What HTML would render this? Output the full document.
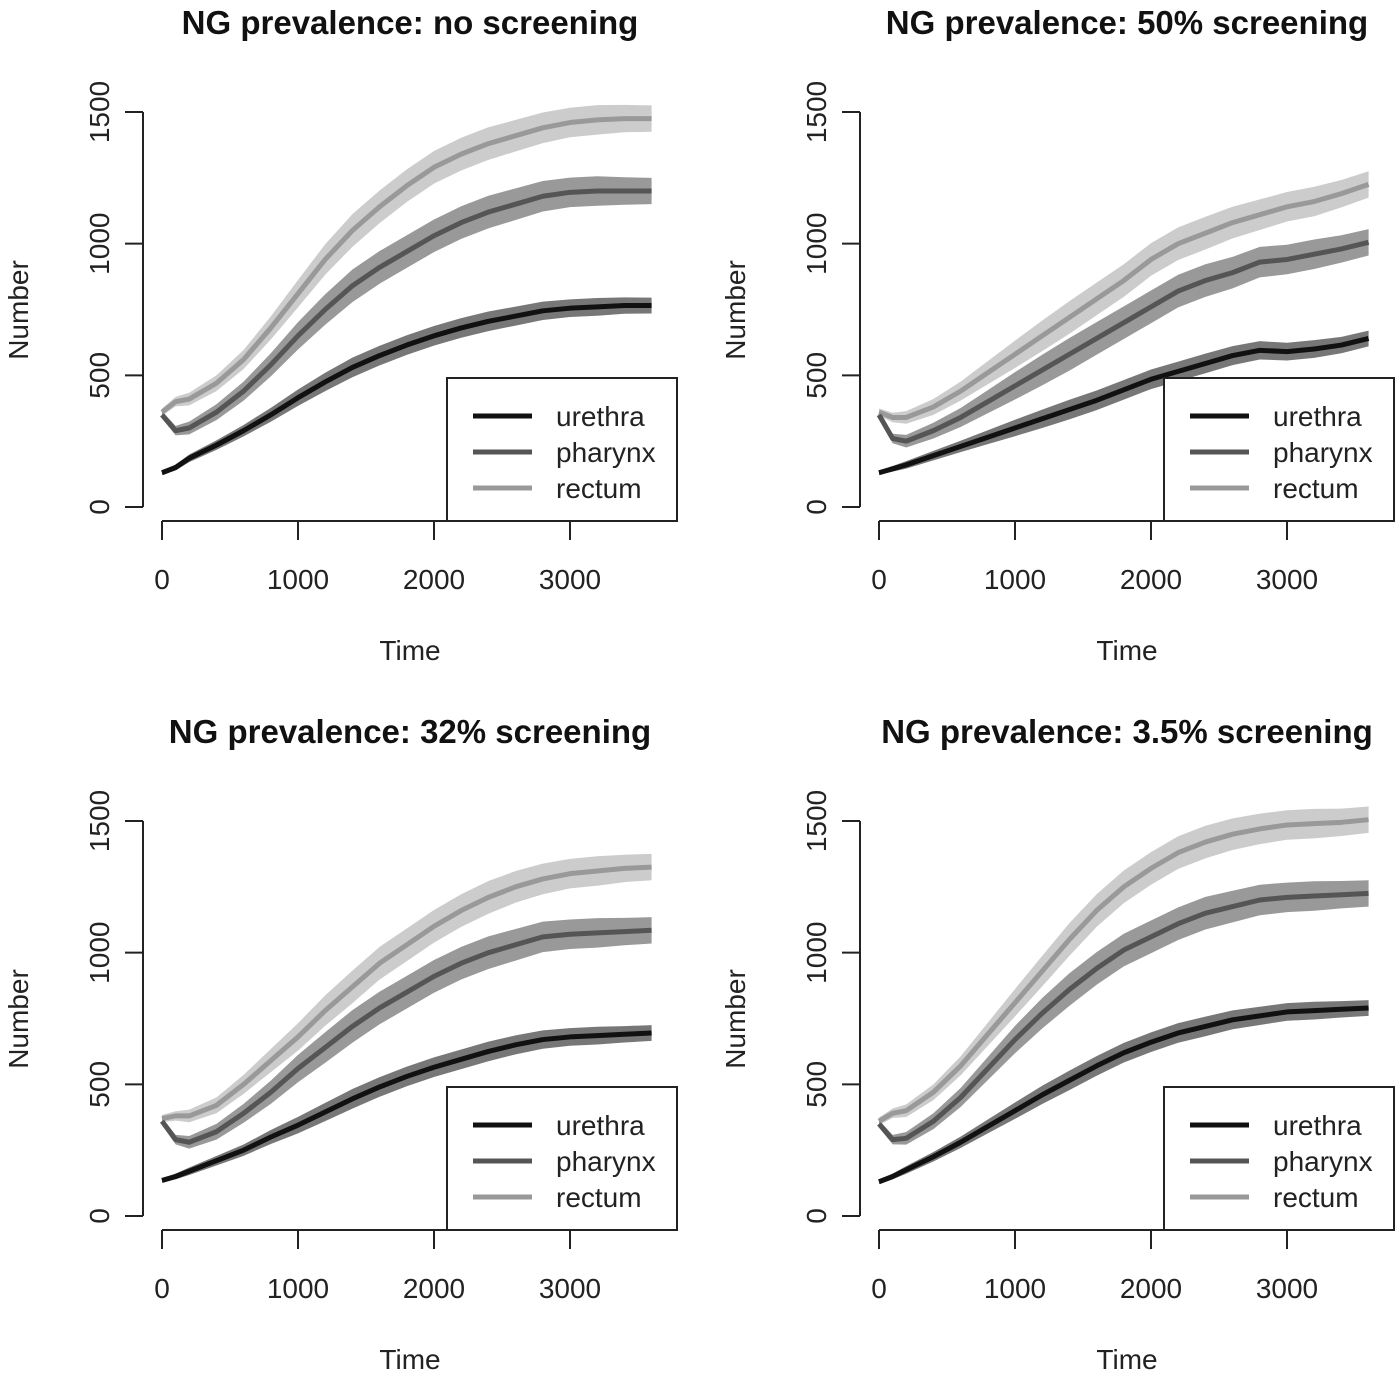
<!DOCTYPE html>
<html><head><meta charset="utf-8"><style>
html,body{margin:0;padding:0;background:#fff;}
svg{display:block;font-family:"Liberation Sans",Arial,sans-serif;}
</style></head><body>
<svg id="chart" width="1400" height="1377" viewBox="0 0 1400 1377" xmlns="http://www.w3.org/2000/svg"></svg>
<script>
const times = [0,100,200,400,600,800,1000,1200,1400,1600,1800,2000,2200,2400,2600,2800,3000,3200,3400,3600];
const spread = [14,18,24,30,36,44,52,58,62,62,62,62,62,62,60,58,56,56,52,50];
const titles = ["NG prevalence: no screening","NG prevalence: 50% screening","NG prevalence: 32% screening","NG prevalence: 3.5% screening"];
const seriesNames = ["urethra","pharynx","rectum"];
const xTicks = [0,1000,2000,3000];
const yTicks = [0,500,1000,1500];
const urethra1 = [130,150,185,235,290,350,415,475,530,575,615,650,680,705,725,745,755,760,765,765];
const pharynx1 = [350,290,300,360,440,540,650,750,840,910,970,1030,1080,1120,1150,1180,1195,1200,1200,1200];
const rectum1  = [360,400,410,470,560,680,810,940,1050,1140,1220,1290,1340,1380,1410,1440,1460,1470,1475,1475];
const urethra2 = [130,145,160,195,230,265,300,335,370,405,445,485,515,545,575,595,590,600,615,640];
const pharynx2 = [350,260,250,290,340,400,460,520,580,640,700,760,820,860,890,930,940,960,980,1005];
const rectum2  = [360,340,340,380,440,510,580,650,720,790,860,940,1000,1040,1080,1110,1140,1160,1190,1225];
const urethra3 = [135,150,170,210,250,300,345,395,445,490,530,565,595,625,650,670,680,685,690,695];
const pharynx3 = [360,290,280,320,390,470,560,640,720,790,850,910,960,1000,1030,1060,1070,1075,1080,1085];
const rectum3  = [370,380,380,420,500,590,680,780,870,960,1030,1100,1160,1210,1250,1280,1300,1310,1320,1325];
const urethra4 = [130,150,175,225,280,340,400,460,515,570,620,660,695,720,745,760,775,780,785,790];
const pharynx4 = [350,290,295,360,450,560,670,770,860,940,1010,1060,1110,1150,1175,1200,1210,1215,1220,1225];
const rectum4  = [360,390,400,470,570,690,810,930,1050,1160,1250,1320,1380,1420,1450,1470,1485,1490,1495,1505];

const panelData = [[urethra1,pharynx1,rectum1],[urethra2,pharynx2,rectum2],[urethra3,pharynx3,rectum3],[urethra4,pharynx4,rectum4]];
const lineColors = ["#111","#555","#999"];
const bandColors = ["#777","#999","#ccc"];
const svg = document.getElementById('chart');
const NS = "http://www.w3.org/2000/svg";
function mk(tag, attrs, parent){const e=document.createElementNS(NS,tag);for(const k in attrs)e.setAttribute(k,attrs[k]);parent.appendChild(e);return e;}

panelData.forEach((series,p)=>{
  const ox = (p%2)*717, oy = Math.floor(p/2)*709;
  const g = mk('g',{},svg);
  
  
  const xs = t => ox + 162 + t*0.136;
  const ys = v => oy + 507 - v*(395/1500);
  const t = mk('text',{x:ox+410,y:oy+34,'text-anchor':'middle','font-size':'33','font-weight':'bold',fill:'#111'},g);
  t.textContent = titles[p];
  
  
  [2,1,0].forEach(s=>{
    const vals = series[s];
    const f = s===0?0.6:1;
    let up = vals.map((v,i)=>xs(times[i])+','+ys(v+spread[i]*f));
    let dn = vals.map((v,i)=>xs(times[i])+','+ys(v-spread[i]*f)).reverse();
    const b = mk('polygon',{points:up.concat(dn).join(' '),fill:bandColors[s]},g);
    
    
  });
  [2,1,0].forEach(s=>{
    const vals = series[s];
    const l = mk('polyline',{points:vals.map((v,i)=>xs(times[i])+','+ys(v)).join(' '),fill:'none',stroke:lineColors[s],'stroke-width':'5','stroke-linejoin':'round'},g);
    
    
  });
  const ya = mk('g',{},g);
  
  
  mk('line',{x1:ox+143,x2:ox+143,y1:ys(0),y2:ys(1500),stroke:'#222','stroke-width':'2'},ya);
  yTicks.forEach(v=>{
    mk('line',{x1:ox+125,x2:ox+143,y1:ys(v),y2:ys(v),stroke:'#222','stroke-width':'2'},ya);
    const tx = mk('text',{x:ox+99,y:ys(v),'text-anchor':'middle','font-size':'28',fill:'#222',transform:'rotate(-90 '+(ox+99)+' '+ys(v)+')',dy:'10'},ya);
    tx.textContent = v;
  });
  const yt = mk('text',{x:ox+18,y:oy+310,'text-anchor':'middle','font-size':'28',fill:'#222',transform:'rotate(-90 '+(ox+18)+' '+(oy+310)+')',dy:'10'},g);
  yt.textContent='Number';
  
  
  const xa = mk('g',{},g);
  
  
  mk('line',{x1:xs(0),x2:xs(3000),y1:oy+521,y2:oy+521,stroke:'#222','stroke-width':'2'},xa);
  xTicks.forEach(v=>{
    mk('line',{x1:xs(v),x2:xs(v),y1:oy+521,y2:oy+540,stroke:'#222','stroke-width':'2'},xa);
    const tx = mk('text',{x:xs(v),y:oy+589,'text-anchor':'middle','font-size':'28',fill:'#222'},xa);
    tx.textContent = v;
  });
  const xt = mk('text',{x:ox+410,y:oy+660,'text-anchor':'middle','font-size':'28',fill:'#222'},g);
  xt.textContent='Time';
  
  
  const lg = mk('g',{},g);
  
  
  mk('rect',{x:ox+447,y:oy+378,width:230,height:143,fill:'#fff',stroke:'#222','stroke-width':'2'},lg);
  seriesNames.forEach((n,i)=>{
    const yy = oy+416+i*36;
    mk('line',{x1:ox+473,x2:ox+532,y1:yy,y2:yy,stroke:lineColors[i],'stroke-width':'5'},lg);
    const tx = mk('text',{x:ox+556,y:yy+10,'font-size':'28',fill:'#222'},lg);
    tx.textContent = n;
  });
});
</script>
</body></html>
